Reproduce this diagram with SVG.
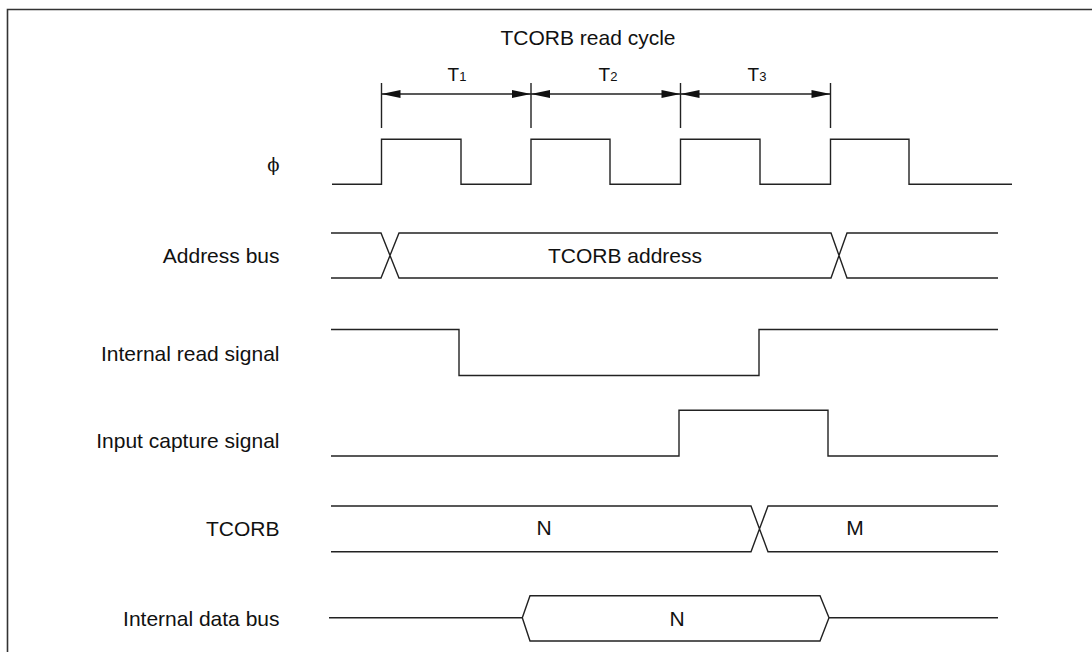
<svg xmlns="http://www.w3.org/2000/svg" width="1092" height="652" viewBox="0 0 1092 652">
<style>
.w{fill:none;stroke:#222;stroke-width:1.4;stroke-linejoin:miter}
.t{font-family:"Liberation Sans",Arial,Helvetica,sans-serif;font-size:21px;fill:#111}
.lbl{text-anchor:end}
.c{text-anchor:middle}
.ah{fill:#111;stroke:none}
</style>
<rect x="0" y="0" width="1092" height="652" fill="#fff"/>
<path d="M7.5,652 V9.5 H1092" fill="none" stroke="#333" stroke-width="1.6"/>

<g id="title">
<text class="t c" x="588" y="45">TCORB read cycle</text>
</g>

<g id="timing-markers">
<path class="w" d="M381.5,83 V128 M531,83 V128 M680.5,83 V128 M830.5,83 V128"/>
<path class="w" d="M381.5,94 H830.5"/>
<path class="ah" d="M381.5,94 l19,-4 v8 z M531,94 l-19,-4 v8 z M531,94 l19,-4 v8 z M680.5,94 l-19,-4 v8 z M680.5,94 l19,-4 v8 z M830.5,94 l-19,-4 v8 z"/>
<text class="t c" x="457" y="80.5" style="font-size:19px">T<tspan style="font-size:13px">1</tspan></text>
<text class="t c" x="608" y="80.5" style="font-size:19px">T<tspan style="font-size:13px">2</tspan></text>
<text class="t c" x="757" y="80.5" style="font-size:19px">T<tspan style="font-size:13px">3</tspan></text>
</g>

<g id="phi">
<text x="279.5" y="171" text-anchor="end" style="font-family:'DejaVu Serif','Liberation Serif',serif;font-size:18px;fill:#111">ϕ</text>
<path class="w" d="M332,184.3 H381.5 V139.3 H461 V184.3 H531 V139.3 H610 V184.3 H680.5 V139.3 H760 V184.3 H830.5 V139.3 H909 V184.3 H1012"/>
</g>

<g id="address-bus">
<text class="t lbl" x="279.5" y="263.3">Address bus</text>
<path class="w" d="M331,233 H381 L399,278 H831 L847,233 H998 M331,278 H381 L399,233 H831 L847,278 H998"/>
<text class="t c" x="625" y="263">TCORB address</text>
</g>

<g id="internal-read-signal">
<text class="t lbl" x="279.5" y="360.7">Internal read signal</text>
<path class="w" d="M331,329.5 H459 V375.5 H759 V329.5 H998"/>
</g>

<g id="input-capture-signal">
<text class="t lbl" x="279.5" y="447.7">Input capture signal</text>
<path class="w" d="M331,456 H679 V410.3 H828 V456 H998"/>
</g>

<g id="tcorb">
<text class="t lbl" x="279.5" y="535.7">TCORB</text>
<path class="w" d="M331,506 H751 L768,551.7 H998 M331,551.7 H751 L768,506 H998"/>
<text class="t c" x="544" y="535">N</text>
<text class="t c" x="855" y="535">M</text>
</g>

<g id="internal-data-bus">
<text class="t lbl" x="279.5" y="626">Internal data bus</text>
<path class="w" d="M329,617.7 H522.3 L530,595.8 H820 L829,617.7 L820,641 H530 L522.3,617.7 M829,617.7 H998"/>
<text class="t c" x="677" y="625.7">N</text>
</g>
</svg>
